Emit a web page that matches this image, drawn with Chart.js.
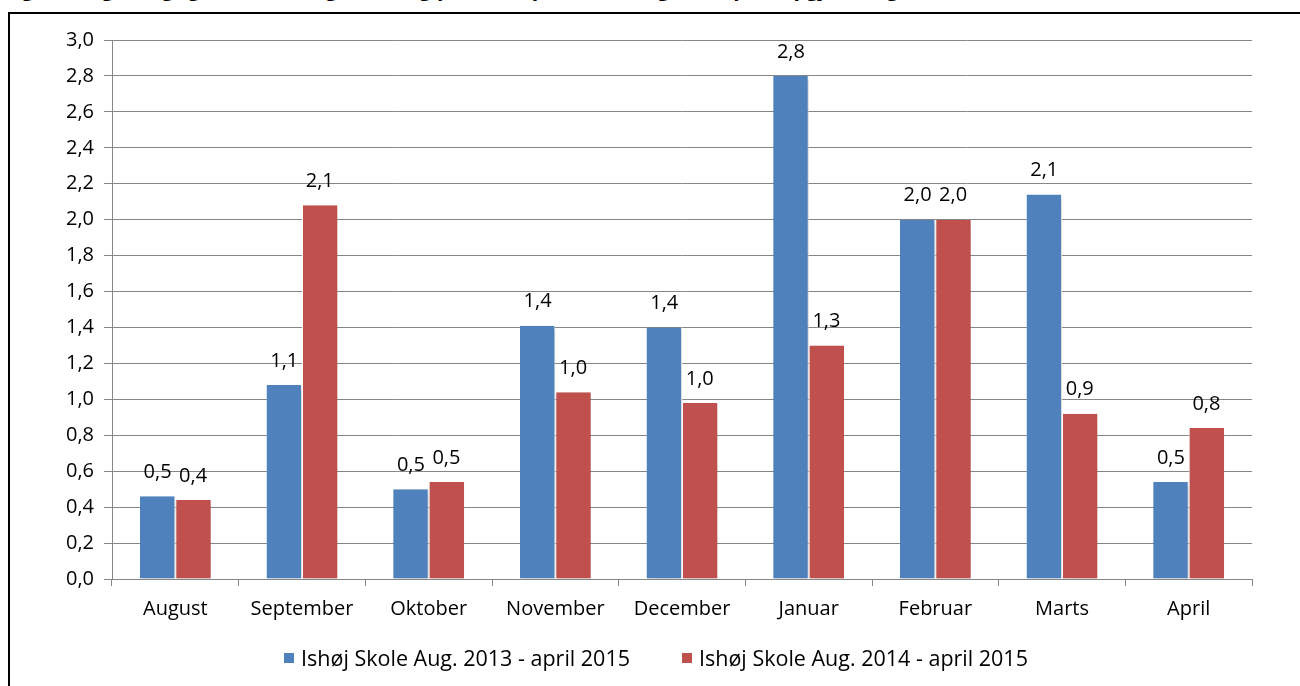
<!DOCTYPE html>
<html>
<head>
<meta charset="utf-8">
<script src="https://cdn.jsdelivr.net/npm/chart.js@4.4.1/dist/chart.umd.min.js"></script>
<style>
  html, body { margin: 0; padding: 0; background: #fff; overflow: hidden; }
  #wrap { position: relative; width: 1300px; height: 686px; }
  #title { position: absolute; left: 4px; top: -26px; font: bold 21px 'Open Sans', sans-serif; white-space: nowrap; color: #000; }
  #frame { position: absolute; left: 8px; top: 12px; width: 1310px; height: 700px; border: 2px solid #000; box-sizing: border-box; }
  canvas { position: absolute; left: 0; top: 0; }
  #legend { position: absolute; left: 6px; top: 643px; width: 1300px; display: flex; justify-content: center; gap: 52px;
            font: 21.5px 'Open Sans', sans-serif; color: #000; }
  #legend span { display: flex; align-items: center; white-space: nowrap; }
  #legend i { display: inline-block; width: 10px; height: 10px; margin-right: 7px; }
</style>
</head>
<body>
<div id="wrap">
  <div id="title">Figur 3: Ugentligt gennemsnitligt forbrug pr. elev i perioden august - april, opgjort i kg</div>
  <div id="frame"></div>
  <canvas id="c" width="1300" height="686"></canvas>
  <div id="legend"></div>
</div>
<script>
const months = ['August', 'September', 'Oktober', 'November', 'December', 'Januar', 'Februar', 'Marts', 'April'];
const serie2013 = [0.46, 1.08, 0.50, 1.41, 1.40, 2.80, 2.00, 2.14, 0.54];
const serie2014 = [0.44, 2.08, 0.54, 1.04, 0.98, 1.30, 2.00, 0.92, 0.84];
const seriesNames = ['Ishøj Skole Aug. 2013 - april 2015', 'Ishøj Skole Aug. 2014 - april 2015'];
const seriesColors = ['#4F81BD', '#C0504D'];
const yTicks = [0, 0.2, 0.4, 0.6, 0.8, 1.0, 1.2, 1.4, 1.6, 1.8, 2.0, 2.2, 2.4, 2.6, 2.8, 3.0];

const FONT = "'Open Sans', sans-serif";
const comma = v => v.toFixed(1).replace('.', ',');

// bar shadow + value labels, Excel style
const excelBars = {
  id: 'excelBars',
  beforeDatasetsDraw(chart) {
    const ctx = chart.ctx;
    ctx.save();
    ctx.shadowColor = 'rgba(0,0,0,0.22)';
    ctx.shadowBlur = 5;
    ctx.shadowOffsetX = 2;
    ctx.shadowOffsetY = 2;
  },
  afterDatasetsDraw(chart) {
    const ctx = chart.ctx;
    ctx.restore();
    ctx.save();
    ctx.font = '20px ' + FONT;
    ctx.fillStyle = '#000';
    ctx.textAlign = 'center';
    ctx.textBaseline = 'middle';
    chart.data.datasets.forEach((ds, i) => {
      chart.getDatasetMeta(i).data.forEach((bar, j) => {
        ctx.fillText(comma(ds.data[j]), bar.x, bar.y - 24);
      });
    });
    ctx.restore();
  }
};

new Chart(document.getElementById('c'), {
  type: 'bar',
  data: {
    labels: months,
    datasets: [
      { label: seriesNames[0], data: serie2013, backgroundColor: seriesColors[0], borderColor: '#fff', borderWidth: { left: 0, right: 1, top: 0, bottom: 0 } },
      { label: seriesNames[1], data: serie2014, backgroundColor: seriesColors[1], borderColor: '#fff', borderWidth: { left: 1, right: 0, top: 0, bottom: 0 } }
    ]
  },
  options: {
    responsive: false,
    animation: false,
    layout: { padding: { left: 0, right: 48, top: 40, bottom: 0 } },
    datasets: { bar: { categoryPercentage: 0.56, barPercentage: 1.0 } },
    plugins: {
      tooltip: { enabled: false },
      legend: { display: false }
    },
    scales: {
      x: {
        grid: { drawOnChartArea: false, offset: true, color: '#868686', tickLength: 7 },
        border: { color: '#868686' },
        ticks: { font: { family: FONT, size: 20 }, color: '#000', padding: 11 },
        afterFit(s) { s.height = 107; }
      },
      y: {
        min: 0, max: 3,
        grid: { color: '#868686', tickLength: 8 },
        border: { color: '#868686' },
        afterBuildTicks(s) { s.ticks = yTicks.map(v => ({ value: v })); },
        ticks: { font: { family: FONT, size: 20 }, color: '#000', padding: 10, callback: v => comma(v) },
        afterFit(s) { s.width = 112; }
      }
    }
  },
  plugins: [excelBars]
});

document.getElementById('legend').innerHTML = seriesNames
  .map((n, i) => `<span><i style="background:${seriesColors[i]}"></i>${n}</span>`).join('');
</script>
</body>
</html>
